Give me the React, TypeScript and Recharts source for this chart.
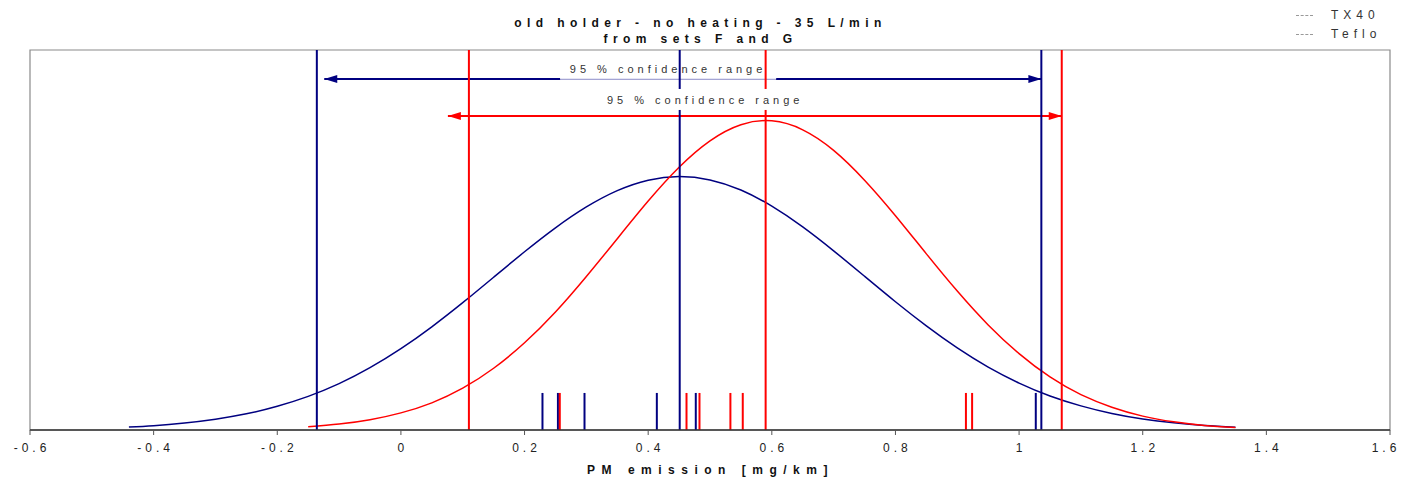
import React from "react";
import {
  ComposedChart,
  Line,
  Scatter,
  XAxis,
  YAxis,
  ReferenceLine,
  ReferenceArea,
} from "recharts";

// density curves
const txX = [-0.44, -0.4, -0.35, -0.3, -0.25, -0.2, -0.15, -0.1, -0.05, 0, 0.05, 0.1, 0.15, 0.2, 0.25, 0.3, 0.35, 0.4, 0.45, 0.5, 0.55, 0.6, 0.65, 0.7, 0.75, 0.8, 0.85, 0.9, 0.95, 1, 1.05, 1.1, 1.15, 1.2, 1.25, 1.3, 1.35];
const txY = [0.016, 0.023, 0.037, 0.057, 0.085, 0.125, 0.177, 0.244, 0.328, 0.428, 0.543, 0.67, 0.804, 0.938, 1.064, 1.174, 1.26, 1.315, 1.334, 1.316, 1.263, 1.178, 1.069, 0.943, 0.809, 0.675, 0.548, 0.432, 0.331, 0.247, 0.179, 0.127, 0.087, 0.058, 0.038, 0.024, 0.015];
const tefloX = [-0.15, -0.1, -0.05, 0, 0.05, 0.1, 0.15, 0.2, 0.25, 0.3, 0.35, 0.4, 0.45, 0.5, 0.55, 0.6, 0.65, 0.7, 0.75, 0.8, 0.85, 0.9, 0.95, 1, 1.05, 1.1, 1.15, 1.2, 1.25, 1.3, 1.35];
const tefloY = [0.017, 0.031, 0.054, 0.09, 0.143, 0.22, 0.325, 0.459, 0.621, 0.808, 1.007, 1.205, 1.383, 1.522, 1.607, 1.627, 1.58, 1.472, 1.315, 1.128, 0.927, 0.731, 0.553, 0.402, 0.279, 0.186, 0.12, 0.073, 0.043, 0.024, 0.013];

// single measurements (rug)
const txRuns = [0.229, 0.254, 0.297, 0.414, 0.477, 1.027];
const tefloRuns = [0.257, 0.462, 0.483, 0.533, 0.553, 0.914, 0.924];
const rugHeight = 0.195;

// mean and 95% limits
const txLines = [-0.136, 0.451, 1.036];
const tefloLines = [0.11, 0.59, 1.069];

// confidence arrows: [from, to, level]
const txArrow = [-0.124, 1.036, 1.847];
const tefloArrow = [0.076, 1.069, 1.653];

const xTicks = [-0.6, -0.4, -0.2, 0, 0.2, 0.4, 0.6, 0.8, 1, 1.2, 1.4, 1.6];

const BLUE = "#000080";
const RED = "#FF0000";
const FONT = "'Liberation Sans', Arial, sans-serif";

const zip = (xs: number[], ys: number[]) => xs.map((x, i) => ({ x, y: ys[i] }));

const ArrowHead = (props: any) => {
  const { cx, cy, payload } = props;
  const d = payload.dir;
  const pts = `${cx},${cy} ${cx - d * 13},${cy - 4} ${cx - d * 13},${cy + 4}`;
  return <polygon points={pts} fill={payload.color} />;
};

const RangeLabel = (props: any) => {
  const { cx, cy, payload } = props;
  return (
    <g>
      <rect x={cx - 106} y={cy - 11} width={216} height={21} fill="#fff" />
      {payload.underline && (
        <line x1={cx - 106} x2={cx + 110} y1={cy + 10} y2={cy + 10} stroke="#dcdcf0" strokeWidth={1.5} />
      )}
      <text
        x={cx + 2}
        y={cy + 4}
        textAnchor="middle"
        fontSize={11}
        letterSpacing={4}
        fill="#333"
        fontFamily={FONT}
      >
        {payload.text}
      </text>
    </g>
  );
};

const Tick = (props: any) => {
  const { x, y, payload } = props;
  const v = Math.round(payload.value * 10) / 10;
  const shift = x > 1380 ? -4 : 2;
  return (
    <text
      x={x + shift}
      y={y + 15}
      textAnchor="middle"
      fontSize={12}
      letterSpacing={4}
      fill="#222"
      fontFamily={FONT}
    >
      {String(v)}
    </text>
  );
};

export default function App() {
  const txData = zip(txX, txY);
  const tefloData = zip(tefloX, tefloY);
  const heads = [
    { x: txArrow[0], y: txArrow[2], dir: -1, color: BLUE },
    { x: txArrow[1], y: txArrow[2], dir: 1, color: BLUE },
    { x: tefloArrow[0], y: tefloArrow[2], dir: -1, color: RED },
    { x: tefloArrow[1], y: tefloArrow[2], dir: 1, color: RED },
  ];
  const label1 = [{ x: 0.429, y: 1.9, text: "95 % confidence range", underline: true }];
  const label2 = [{ x: 0.489, y: 1.737, text: "95 % confidence range", underline: false }];

  return (
    <div style={{ position: "absolute", left: 0, top: 0, width: 1401, height: 481, background: "#fff", fontFamily: FONT }}>
      <div style={{ position: "absolute", left: 0, width: 1401, top: 15, textAlign: "center", fontSize: 12, fontWeight: "bold", letterSpacing: 5.4, lineHeight: "16px", color: "#111" }}>
        old holder - no heating - 35 L/min
        <br />
        from sets F and G
      </div>

      <div style={{ position: "absolute", left: 1296, top: 6, fontSize: 12, color: "#333", lineHeight: "19px" }}>
        {["TX40", "Teflo"].map((n) => (
          <div key={n} style={{ display: "flex", alignItems: "center" }}>
            <span style={{ display: "inline-block", width: 17, borderTop: "1px dashed #999", marginRight: 18 }} />
            <span style={{ letterSpacing: 5 }}>{n}</span>
          </div>
        ))}
      </div>

      <ComposedChart width={1401} height={481} margin={{ top: 50, right: 11, left: 30, bottom: 21 }}>
        <XAxis
          type="number"
          dataKey="x"
          domain={[-0.6, 1.6]}
          ticks={xTicks}
          allowDataOverflow
          height={30}
          tick={<Tick />}
          tickSize={5}
          tickLine={{ stroke: "#555" }}
          axisLine={{ stroke: "#333", strokeWidth: 1.5 }}
        />
        <YAxis type="number" dataKey="y" domain={[0, 2]} hide allowDataOverflow />
        <ReferenceArea x1={-0.6} x2={1.6} y1={0} y2={2} fill="none" stroke="#8a8a8a" strokeWidth={1.2} ifOverflow="visible" />

        <Line data={txData} dataKey="y" type="natural" stroke={BLUE} strokeWidth={1.5} dot={false} isAnimationActive={false} zIndex={400} />
        <Line data={tefloData} dataKey="y" type="natural" stroke={RED} strokeWidth={1.5} dot={false} isAnimationActive={false} zIndex={400} />

        <ReferenceLine segment={[{ x: txArrow[0], y: txArrow[2] }, { x: txArrow[1], y: txArrow[2] }]} stroke={BLUE} strokeWidth={2} zIndex={410} />
        <ReferenceLine segment={[{ x: tefloArrow[0], y: tefloArrow[2] }, { x: tefloArrow[1], y: tefloArrow[2] }]} stroke={RED} strokeWidth={2} zIndex={410} />

        <Scatter data={label1} dataKey="y" shape={<RangeLabel />} isAnimationActive={false} zIndex={420} />

        {txLines.map((v) => (
          <ReferenceLine key={"tl" + v} x={v} stroke={BLUE} strokeWidth={2} zIndex={430} />
        ))}
        {tefloLines.map((v) => (
          <ReferenceLine key={"fl" + v} x={v} stroke={RED} strokeWidth={2} zIndex={430} />
        ))}
        {txRuns.map((v) => (
          <ReferenceLine key={"tr" + v} segment={[{ x: v, y: 0 }, { x: v, y: rugHeight }]} stroke={BLUE} strokeWidth={2} zIndex={430} />
        ))}
        {tefloRuns.map((v) => (
          <ReferenceLine key={"fr" + v} segment={[{ x: v, y: 0 }, { x: v, y: rugHeight }]} stroke={RED} strokeWidth={2} zIndex={430} />
        ))}

        <Scatter data={heads} dataKey="y" shape={<ArrowHead />} isAnimationActive={false} zIndex={440} />
        <Scatter data={label2} dataKey="y" shape={<RangeLabel />} isAnimationActive={false} zIndex={450} />
      </ComposedChart>

      <div style={{ position: "absolute", left: 0, width: 1401, top: 463, textAlign: "center", fontSize: 12, fontWeight: "bold", letterSpacing: 6.5, color: "#111", paddingLeft: 10 }}>
        PM emission [mg/km]
      </div>
    </div>
  );
}
